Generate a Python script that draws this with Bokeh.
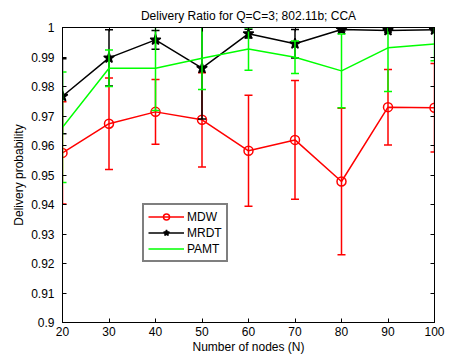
from bokeh.plotting import figure
from bokeh.models import (Range1d, FixedTicker, NumeralTickFormatter, LinearAxis,
                          Legend, LegendItem, ColumnDataSource)
from bokeh.embed import file_html
from bokeh.resources import INLINE

# ---- data ----
nodes = [20, 30, 40, 50, 60, 70, 80, 90, 100]
mdw = [0.9575, 0.9674, 0.9714, 0.9687, 0.9582, 0.9619, 0.9478, 0.9730, 0.9728]
mdw_err = [0.0173, 0.0155, 0.0110, 0.0160, 0.0188, 0.0201, 0.0248, 0.0128, 0.0150]
mrdt = [0.9767, 0.9897, 0.9958, 0.9862, 0.9979, 0.9945, 0.9993, 0.9990, 0.9992]
mrdt_err = [0.0127, 0.0095, 0.0032, 0.0172, 0.0015, 0.0048, 0.0005, 0.0005, 0.0003]
pamt = [0.9662, 0.9862, 0.9862, 0.9896, 0.9927, 0.9899, 0.9853, 0.9931, 0.9944]
pamt_err = [0.0187, 0.0062, 0.0143, 0.0106, 0.0072, 0.0055, 0.0125, 0.0148, 0.0057]

x_ticks = [20, 30, 40, 50, 60, 70, 80, 90, 100]
y_ticks = [0.90, 0.91, 0.92, 0.93, 0.94, 0.95, 0.96, 0.97, 0.98, 0.99, 1.00]

title_text = "Delivery Ratio for Q=C=3; 802.11b; CCA"
x_label = "Number of nodes (N)"
y_label = "Delivery probability"

FONT = "Liberation Sans"

p = figure(width=451, height=356, output_backend="svg", toolbar_location=None,
           x_range=Range1d(20, 100), y_range=Range1d(0.9, 1.0),
           min_border_left=62, min_border_right=17, min_border_top=27,
           min_border_bottom=34)

p.title.text = title_text
p.title.align = "center"
p.title.text_font = FONT
p.title.text_font_size = "12px"
p.title.text_font_style = "normal"
p.title.text_color = "black"

p.xgrid.visible = False
p.ygrid.visible = False
p.outline_line_color = "black"
p.outline_line_width = 1
p.outline_line_alpha = 1

def style_axis(ax, ticks, show_labels=True):
    ax.ticker = FixedTicker(ticks=ticks)
    ax.major_tick_in = 4
    ax.major_tick_out = 0
    ax.minor_tick_in = 0
    ax.minor_tick_out = 0
    ax.axis_line_color = "black"
    ax.major_tick_line_color = "black"
    ax.major_label_text_font = FONT
    ax.axis_label_text_font = FONT
    ax.axis_label_text_font_style = "normal"
    ax.axis_label_text_color = "black"
    if show_labels:
        ax.major_label_text_color = "black"
        ax.major_label_text_font_size = "12px"
        ax.axis_label_text_font_size = "12px"
    else:
        ax.major_label_text_color = None
        ax.major_label_text_font_size = "1px"
        ax.major_label_standoff = 0

xa = p.xaxis[0]
style_axis(xa, x_ticks)
xa.axis_label = x_label
xa.major_label_standoff = 4
xa.axis_label_standoff = 1

ya = p.yaxis[0]
style_axis(ya, y_ticks)
ya.axis_label = y_label
ya.formatter = NumeralTickFormatter(format="0.[00]")
ya.major_label_standoff = 8
ya.axis_label_standoff = 2

ra = LinearAxis()
style_axis(ra, y_ticks, show_labels=False)
p.add_layout(ra, "right")
ta = LinearAxis()
style_axis(ta, x_ticks, show_labels=False)
p.add_layout(ta, "above")

def series(y, err, color, marker, msize, fill):
    lo = [a - b for a, b in zip(y, err)]
    hi = [a + b for a, b in zip(y, err)]
    src = ColumnDataSource(dict(x=nodes, y=y, lo=lo, hi=hi))
    p.segment(x0="x", y0="lo", x1="x", y1="hi", source=src, line_color=color, line_width=1.5)
    p.scatter(x="x", y="lo", source=src, marker="dash", size=8, line_color=color, line_width=1.5)
    p.scatter(x="x", y="hi", source=src, marker="dash", size=8, line_color=color, line_width=1.5)
    ln = p.line(x="x", y="y", source=src, line_color=color, line_width=1.5)
    out = [ln]
    if marker is not None:
        mk = p.scatter(x="x", y="y", source=src, marker=marker, size=msize,
                       line_color=color, fill_color=fill, line_width=1.5)
        out.append(mk)
    return out

r_mdw = series(mdw, mdw_err, "#ff0000", "circle", 9, None)
r_mrdt = series(mrdt, mrdt_err, "#000000", "star", 11, "#000000")
r_pamt = series(pamt, pamt_err, "#00ff00", None, 0, None)

legend = Legend(items=[
    LegendItem(label="MDW", renderers=r_mdw),
    LegendItem(label="MRDT", renderers=r_mrdt),
    LegendItem(label="PAMT", renderers=r_pamt),
], location=(80, 60))
legend.label_text_font = FONT
legend.label_text_font_size = "12px"
legend.label_text_color = "black"
legend.border_line_color = "black"
legend.border_line_width = 2
legend.background_fill_color = "white"
legend.background_fill_alpha = 1
legend.padding = 4
legend.spacing = 1
legend.glyph_width = 36
legend.glyph_height = 15
legend.label_standoff = 3
legend.label_height = 15
legend.margin = 0
p.add_layout(legend, "center")

open("out.html", "w").write(file_html(p, INLINE))
